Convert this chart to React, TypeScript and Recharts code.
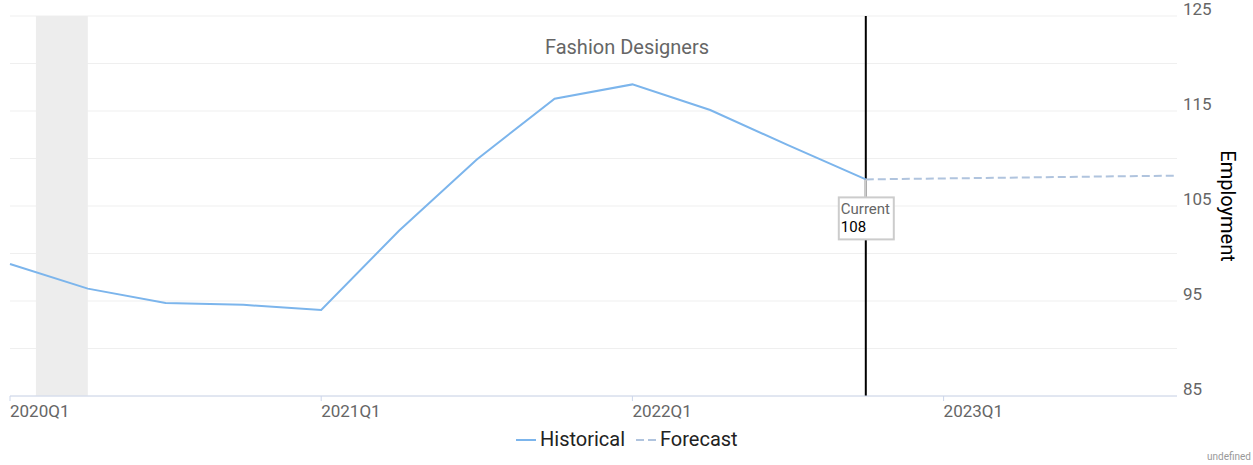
import React from 'react';
import {
  ComposedChart,
  Line,
  XAxis,
  YAxis,
  CartesianGrid,
  ReferenceArea,
  ReferenceLine,
  ReferenceDot,
  Customized,
} from 'recharts';

const quarters = [
  '2020Q1', '2020Q2', '2020Q3', '2020Q4',
  '2021Q1', '2021Q2', '2021Q3', '2021Q4',
  '2022Q1', '2022Q2', '2022Q3', '2022Q4',
  '2023Q1', '2023Q2', '2023Q3', '2023Q4',
];
const historical: (number | null)[] = [
  98.9, 96.3, 94.8, 94.6, 94.05, 102.4, 109.9, 116.3, 117.8, 115.1, 111.4, 107.8,
  null, null, null, null,
];
const forecast: (number | null)[] = [
  null, null, null, null, null, null, null, null, null, null, null,
  107.8, 107.9, 108.0, 108.1, 108.2,
];
const xTickIndices = [0, 4, 8, 12];
const yTicks = [85, 90, 95, 100, 105, 110, 115, 120, 125];
const yLabelTicks = [85, 95, 105, 115, 125];
const recessionStart = 0.333;
const recessionEnd = 1;
const currentIndex = 11;
const currentValue = 107.8;
const currentLabel = '108';
const title = 'Fashion Designers';
const yAxisTitle = 'Employment';
const legendItems = ['Historical', 'Forecast'];

const data = quarters.map((q, i) => ({
  idx: i,
  quarter: q,
  historical: historical[i],
  forecast: forecast[i],
}));

const FONT = 'Roboto, "Liberation Sans", Arial, sans-serif';

const XTick = (props: any) => {
  const { x, y, payload } = props;
  return (
    <text x={x} y={y + 10} textAnchor="start" dominantBaseline="middle" fontSize={17} fontFamily={FONT} fill="#666666">
      {quarters[payload.value]}
    </text>
  );
};

const YTick = (props: any) => {
  const { x, y, payload } = props;
  if (!yLabelTicks.includes(payload.value)) return <g />;
  return (
    <text x={x} y={y - 5} textAnchor="start" dominantBaseline="middle" fontSize={17} fontFamily={FONT} fill="#666666">
      {payload.value}
    </text>
  );
};

const CurrentMarker = (props: any) => {
  const { cx, cy } = props;
  const bw = 55;
  const bh = 42;
  const top = cy + 18;
  return (
    <g>
      <line x1={cx} y1={cy} x2={cx} y2={top} stroke="#cccccc" strokeWidth={2} />
      <rect x={cx - 27} y={top} width={bw} height={bh} fill="#ffffff" stroke="#cccccc" strokeWidth={2} />
      <text x={cx - 25} y={top + 13} fontSize={15} fontFamily={FONT} fill="#666666" dominantBaseline="middle">Current</text>
      <text x={cx - 25} y={top + 31} fontSize={15} fontFamily={FONT} fill="#000000" dominantBaseline="middle">{currentLabel}</text>
    </g>
  );
};

const Overlay = () => (
  <g>
    <text x={627} y={49} textAnchor="middle" dominantBaseline="middle" fontSize={20} fontFamily={FONT} fill="#666666">
      {title}
    </text>
    <text
      x={1226}
      y={206}
      textAnchor="middle"
      dominantBaseline="middle"
      fontSize={20}
      fontFamily={FONT}
      fill="#000000"
      transform="rotate(90 1226 206)"
    >
      {yAxisTitle}
    </text>
    <g>
      <line x1={516} y1={440} x2={536} y2={440} stroke="#7cb5ec" strokeWidth={2} />
      <text x={540} y={441} dominantBaseline="middle" fontSize={20} fontFamily={FONT} fill="#222222">
        {legendItems[0]}
      </text>
      <line x1={636} y1={440} x2={656} y2={440} stroke="#b0c4de" strokeWidth={2} strokeDasharray="8 4" />
      <text x={660} y={441} dominantBaseline="middle" fontSize={20} fontFamily={FONT} fill="#222222">
        {legendItems[1]}
      </text>
    </g>
    <text x={1251} y={457} textAnchor="end" dominantBaseline="middle" fontSize={10} fontFamily={FONT} fill="#999999">
      undefined
    </text>
  </g>
);

export default function App() {
  return (
    <div style={{ position: 'absolute', left: 0, top: 0, width: 1253, height: 465, background: '#ffffff' }}>
      <ComposedChart
        width={1253}
        height={465}
        data={data}
        margin={{ top: 16, right: 26, bottom: 39, left: 10 }}
      >
        <CartesianGrid vertical={false} stroke="#efefef" strokeWidth={1} />
        <ReferenceArea x1={recessionStart} x2={recessionEnd} fill="#ededed" fillOpacity={1} stroke="none" ifOverflow="hidden" />
        <XAxis
          dataKey="idx"
          type="number"
          domain={[0, quarters.length - 1]}
          ticks={xTickIndices}
          interval={0}
          height={30}
          axisLine={{ stroke: '#ccd6eb', strokeWidth: 1 }}
          tickLine={{ stroke: '#ccd6eb' }}
          tickSize={5}
          tick={<XTick />}
        />
        <YAxis
          orientation="right"
          width={50}
          domain={[85, 125]}
          ticks={yTicks}
          interval={0}
          axisLine={false}
          tickLine={false}
          tickSize={0}
          tickMargin={6}
          tick={<YTick />}
        />
        <ReferenceLine x={currentIndex} stroke="#000000" strokeWidth={2} />
        <Line
          dataKey="historical"
          stroke="#7cb5ec"
          strokeWidth={2}
          dot={false}
          activeDot={false}
          connectNulls={false}
          isAnimationActive={false}
        />
        <Line
          dataKey="forecast"
          stroke="#b0c4de"
          strokeWidth={2}
          strokeDasharray="8 4"
          dot={false}
          activeDot={false}
          connectNulls={false}
          isAnimationActive={false}
        />
        <ReferenceDot x={currentIndex} y={currentValue} r={0} shape={<CurrentMarker />} />
        <Customized component={Overlay} />
      </ComposedChart>
    </div>
  );
}
